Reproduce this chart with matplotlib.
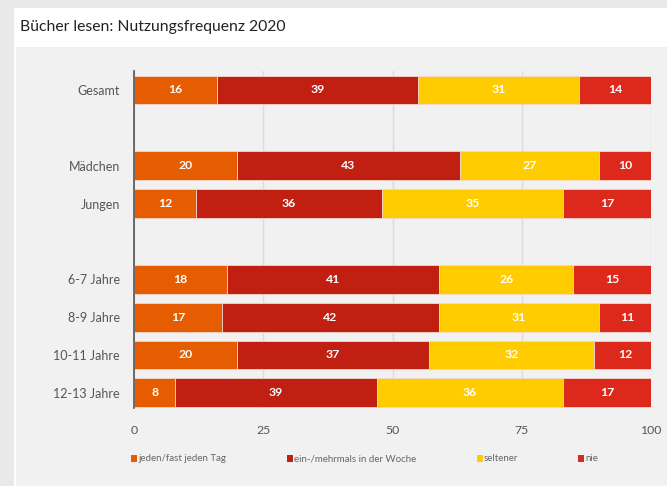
import numpy as np
import matplotlib.pyplot as plt
from matplotlib.patches import Rectangle

plt.rcParams['font.family'] = ['Lato', 'DejaVu Sans']

# Daten
gruppen = ["Gesamt", "Mädchen", "Jungen", "6-7 Jahre", "8-9 Jahre", "10-11 Jahre", "12-13 Jahre"]
zeilen = [0, 2, 3, 5, 6, 7, 8]
kategorien = ["jeden/fast jeden Tag", "ein-/mehrmals in der Woche", "seltener", "nie"]
taeglich = [16, 20, 12, 18, 17, 20, 8]
woechentlich = [39, 43, 36, 41, 42, 37, 39]
seltener = [31, 27, 35, 26, 31, 32, 36]
nie = [14, 10, 17, 15, 11, 12, 17]
x_ticks = [0, 25, 50, 75, 100]

farben = ["#E65C00", "#C01F11", "#FFCC00", "#DC291C"]
werte = np.array([taeglich, woechentlich, seltener, nie], dtype=float)

W, H = 667, 486
fig = plt.figure(figsize=(W / 100, H / 100), dpi=100)
fig.patch.set_facecolor("#e9e9e9")

# Karte mit Titelbereich und grauem Diagrammbereich
fig.patches.append(Rectangle((14 / W, 0), 1, 1 - 8 / H, transform=fig.transFigure,
                             facecolor="white", edgecolor="none", zorder=0))
fig.patches.append(Rectangle((16 / W, 0), 1, 1 - 47 / H, transform=fig.transFigure,
                             facecolor="#f1f1f1", edgecolor="none", zorder=0))
fig.text(20 / W, 1 - 27 / H, "Bücher lesen: Nutzungsfrequenz 2020", fontsize=11.3,
         color="#222222", va="center", ha="left")

ax = fig.add_axes([134 / W, 1 - 408 / H, (651 - 134) / W, (408 - 71) / H])
ax.set_facecolor("none")
ax.set_zorder(2)

links = np.zeros(len(gruppen))
for werte_k, farbe in zip(werte, farben):
    ax.barh(zeilen, werte_k, left=links, height=0.76, color=farbe,
            edgecolor="#f3d6cc", linewidth=0.6, zorder=3)
    for y, l, v in zip(zeilen, links, werte_k):
        ax.text(l + v / 2, y, f"{v:.0f}", ha="center", va="center",
                color="white", fontsize=8.8, fontweight="bold", zorder=4)
    links += werte_k

ax.set_xlim(0, 100)
ax.set_ylim(8.4, -0.5)
ax.set_xticks(x_ticks)
ax.set_yticks(zeilen)
ax.set_yticklabels(gruppen)
ax.tick_params(axis="both", length=0, labelsize=9, labelcolor="#555555")
ax.tick_params(axis="x", pad=12, labelsize=8.8)
ax.tick_params(axis="y", pad=10)
ax.xaxis.grid(True, color="#dcdcdc", linewidth=1, zorder=0)
ax.set_axisbelow(True)
for s in ["top", "right", "bottom"]:
    ax.spines[s].set_visible(False)
ax.spines["left"].set_color("#555555")
ax.spines["left"].set_linewidth(1.2)
ax.spines["left"].set_zorder(5)

# Legende
leg_x = [131, 287, 477, 578]
for px, name, farbe in zip(leg_x, kategorien, farben):
    fig.patches.append(Rectangle((px / W, 1 - 462 / H), 6 / W, 7 / H,
                                 transform=fig.transFigure, facecolor=farbe,
                                 edgecolor="none"))
    fig.text((px + 7) / W, 1 - 458.5 / H, name, fontsize=7, color="#666666",
             va="center", ha="left")

fig.savefig("out.png", dpi=100)
